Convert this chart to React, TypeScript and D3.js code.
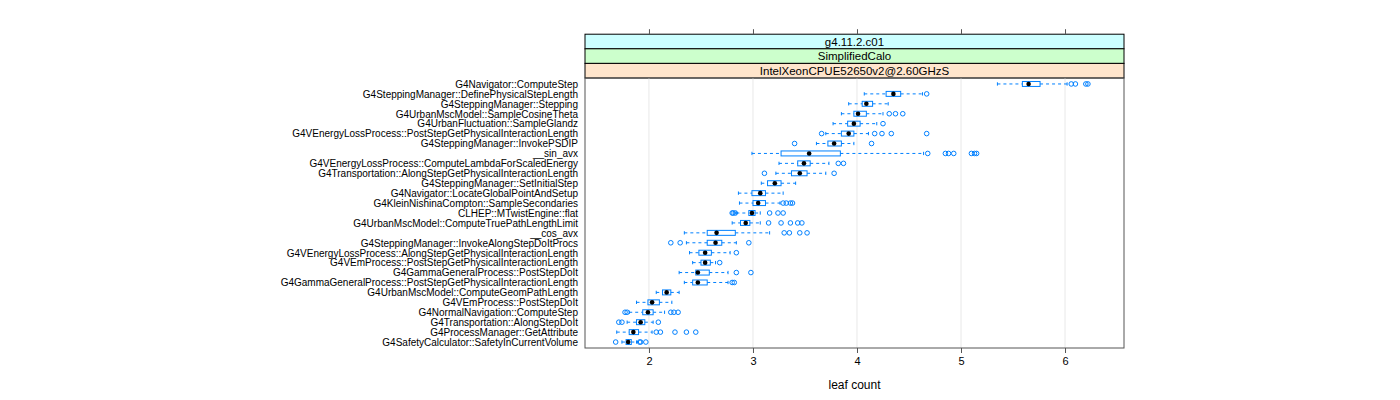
import React, { useEffect, useRef } from 'react';
import * as d3 from 'd3';

// functions, top to bottom as drawn
const categories = [
  'G4Navigator::ComputeStep',
  'G4SteppingManager::DefinePhysicalStepLength',
  'G4SteppingManager::Stepping',
  'G4UrbanMscModel::SampleCosineTheta',
  'G4UrbanFluctuation::SampleGlandz',
  'G4VEnergyLossProcess::PostStepGetPhysicalInteractionLength',
  'G4SteppingManager::InvokePSDIP',
  '__sin_avx',
  'G4VEnergyLossProcess::ComputeLambdaForScaledEnergy',
  'G4Transportation::AlongStepGetPhysicalInteractionLength',
  'G4SteppingManager::SetInitialStep',
  'G4Navigator::LocateGlobalPointAndSetup',
  'G4KleinNishinaCompton::SampleSecondaries',
  'CLHEP::MTwistEngine::flat',
  'G4UrbanMscModel::ComputeTruePathLengthLimit',
  '__cos_avx',
  'G4SteppingManager::InvokeAlongStepDoItProcs',
  'G4VEnergyLossProcess::AlongStepGetPhysicalInteractionLength',
  'G4VEmProcess::PostStepGetPhysicalInteractionLength',
  'G4GammaGeneralProcess::PostStepDoIt',
  'G4GammaGeneralProcess::PostStepGetPhysicalInteractionLength',
  'G4UrbanMscModel::ComputeGeomPathLength',
  'G4VEmProcess::PostStepDoIt',
  'G4NormalNavigation::ComputeStep',
  'G4Transportation::AlongStepDoIt',
  'G4ProcessManager::GetAttribute',
  'G4SafetyCalculator::SafetyInCurrentVolume',
];

const whiskerLow = [5.35, 4.07, 3.92, 3.85, 3.77, 3.70, 3.61, 2.99, 3.25, 3.22, 3.08, 2.86, 2.87, 2.84, 2.80, 2.34, 2.36, 2.39, 2.42, 2.29, 2.34, 2.07, 1.88, 1.81, 1.79, 1.69, 1.74];
const q1 = [5.59, 4.28, 4.05, 3.97, 3.91, 3.85, 3.72, 3.27, 3.43, 3.37, 3.14, 2.99, 3.00, 2.96, 2.88, 2.56, 2.56, 2.48, 2.50, 2.45, 2.42, 2.13, 1.99, 1.94, 1.88, 1.81, 1.78];
const median = [5.65, 4.35, 4.09, 4.01, 3.97, 3.92, 3.78, 3.54, 3.49, 3.45, 3.21, 3.07, 3.05, 2.99, 2.93, 2.65, 2.64, 2.54, 2.54, 2.47, 2.47, 2.17, 2.03, 1.99, 1.92, 1.85, 1.80];
const q3 = [5.76, 4.42, 4.15, 4.09, 4.03, 3.97, 3.85, 3.84, 3.55, 3.52, 3.27, 3.12, 3.12, 3.02, 2.97, 2.83, 2.70, 2.60, 2.59, 2.58, 2.56, 2.21, 2.10, 2.04, 1.96, 1.90, 1.83];
const whiskerHigh = [6.02, 4.63, 4.30, 4.25, 4.19, 4.11, 3.97, 4.64, 3.73, 3.70, 3.41, 3.29, 3.26, 3.07, 3.07, 3.16, 2.84, 2.78, 2.64, 2.76, 2.76, 2.29, 2.22, 2.15, 2.04, 2.03, 1.88];
const outliers = [
  [6.06, 6.10, 6.20, 6.22],
  [4.67],
  [],
  [4.31, 4.37, 4.44],
  [4.25],
  [3.66, 4.17, 4.24, 4.33, 4.67],
  [3.40, 4.14],
  [4.68, 4.85, 4.88, 4.93, 5.10, 5.13, 5.15],
  [3.82, 3.87],
  [3.11, 3.78],
  [],
  [],
  [3.29, 3.32, 3.36, 3.38],
  [2.80, 2.81, 2.83, 3.16, 3.24, 3.29],
  [3.15, 3.27, 3.36, 3.43, 3.47],
  [3.30, 3.35, 3.45, 3.52],
  [2.21, 2.30, 2.96],
  [2.84],
  [2.68],
  [2.84, 2.98],
  [2.80, 2.82],
  [],
  [],
  [1.77, 1.79, 2.21, 2.24, 2.28],
  [1.71, 1.74, 2.09],
  [2.07, 2.11, 2.25, 2.36, 2.45],
  [1.68, 1.91, 1.92, 1.97],
];

const xTicks = [2, 3, 4, 5, 6];
const strips = ['g4.11.2.c01', 'SimplifiedCalo', 'IntelXeonCPUE52650v2@2.60GHzS'];
const stripColors = ['#ccffff', '#ccffcc', '#ffe5cc'];

const W = 1400;
const H = 400;
const panel = { left: 585, right: 1124, top: 78, bottom: 348 };
const stripH = 14.6;
const blue = '#0080ff';
const font = '"Liberation Sans", Arial, Helvetica, sans-serif';

const App: React.FC = () => {
  const svgRef = useRef<SVGSVGElement | null>(null);

  useEffect(() => {
    if (!svgRef.current) return;
    const svg = d3.select(svgRef.current);
    svg.selectAll('*').remove();

    const x = d3.scaleLinear().domain([1.385, 6.567]).range([panel.left, panel.right]);
    const y = d3.scalePoint<string>().domain(categories).range([panel.top, panel.bottom]).padding(0.6);
    const boxH = y.step() / 2;

    // strips
    const stripTop = panel.top - stripH * strips.length;
    strips.forEach((s, i) => {
      const top = stripTop + i * stripH;
      svg.append('rect')
        .attr('x', panel.left).attr('y', top)
        .attr('width', panel.right - panel.left).attr('height', stripH)
        .attr('fill', stripColors[i]).attr('stroke', '#000').attr('stroke-width', 1);
      svg.append('text')
        .attr('x', (panel.left + panel.right) / 2).attr('y', top + stripH / 2 + 4)
        .attr('text-anchor', 'middle').attr('font-family', font).attr('font-size', 11.5)
        .text(s);
    });

    // grid lines
    svg.append('g').selectAll('line').data(xTicks).join('line')
      .attr('x1', d => x(d)).attr('x2', d => x(d))
      .attr('y1', panel.top).attr('y2', panel.bottom)
      .attr('stroke', '#e8e8e8').attr('stroke-width', 1);

    // panel border
    svg.append('rect')
      .attr('x', panel.left).attr('y', panel.top)
      .attr('width', panel.right - panel.left).attr('height', panel.bottom - panel.top)
      .attr('fill', 'none').attr('stroke', '#555').attr('stroke-width', 1);

    // bottom axis
    const bottomAxis = svg.append('g')
      .attr('transform', `translate(0,${panel.bottom})`)
      .call(d3.axisBottom(x).tickValues(xTicks).tickSize(5).tickPadding(4).tickFormat(d3.format('d')));
    bottomAxis.select('.domain').remove();
    bottomAxis.selectAll('line').attr('stroke', '#555');
    bottomAxis.selectAll('text').attr('font-family', font).attr('font-size', 11).attr('fill', '#000');

    // top axis ticks (above strips)
    const topAxis = svg.append('g')
      .attr('transform', `translate(0,${stripTop})`)
      .call(d3.axisTop(x).tickValues(xTicks).tickSize(5).tickFormat(() => ''));
    topAxis.select('.domain').remove();
    topAxis.selectAll('line').attr('stroke', '#555');

    // left labels
    svg.append('g').selectAll('text').data(categories).join('text')
      .attr('x', panel.left - 7).attr('y', d => (y(d) as number) + 3.8)
      .attr('text-anchor', 'end').attr('font-family', font).attr('font-size', 10)
      .text(d => d);

    // x label
    svg.append('text')
      .attr('x', (panel.left + panel.right) / 2).attr('y', 389)
      .attr('text-anchor', 'middle').attr('font-family', font).attr('font-size', 12)
      .text('leaf count');

    const rows = svg.append('g').selectAll('g').data(categories).join('g')
      .attr('transform', d => `translate(0,${y(d)})`);

    // whiskers
    rows.append('line')
      .attr('x1', (_, i) => x(whiskerLow[i])).attr('x2', (_, i) => x(q1[i]))
      .attr('stroke', blue).attr('stroke-dasharray', '3,3');
    rows.append('line')
      .attr('x1', (_, i) => x(q3[i])).attr('x2', (_, i) => x(whiskerHigh[i]))
      .attr('stroke', blue).attr('stroke-dasharray', '3,3');
    rows.append('line')
      .attr('x1', (_, i) => x(whiskerLow[i])).attr('x2', (_, i) => x(whiskerLow[i]))
      .attr('y1', -boxH / 3).attr('y2', boxH / 3).attr('stroke', blue);
    rows.append('line')
      .attr('x1', (_, i) => x(whiskerHigh[i])).attr('x2', (_, i) => x(whiskerHigh[i]))
      .attr('y1', -boxH / 3).attr('y2', boxH / 3).attr('stroke', blue);

    // box
    rows.append('rect')
      .attr('x', (_, i) => x(q1[i])).attr('y', -boxH / 2)
      .attr('width', (_, i) => x(q3[i]) - x(q1[i])).attr('height', boxH)
      .attr('fill', 'none').attr('stroke', blue).attr('stroke-width', 1);

    // median dot
    rows.append('circle')
      .attr('cx', (_, i) => x(median[i])).attr('r', 2.3).attr('fill', '#000');

    // outliers
    rows.selectAll('circle.out').data((_, i) => outliers[i]).join('circle')
      .attr('class', 'out')
      .attr('cx', d => x(d)).attr('r', 2.3)
      .attr('fill', 'none').attr('stroke', blue).attr('stroke-width', 1);
  }, []);

  return (
    <svg ref={svgRef} width={W} height={H}
      style={{ position: 'absolute', left: 0, top: 0, background: '#fff' }} />
  );
};

export default App;
